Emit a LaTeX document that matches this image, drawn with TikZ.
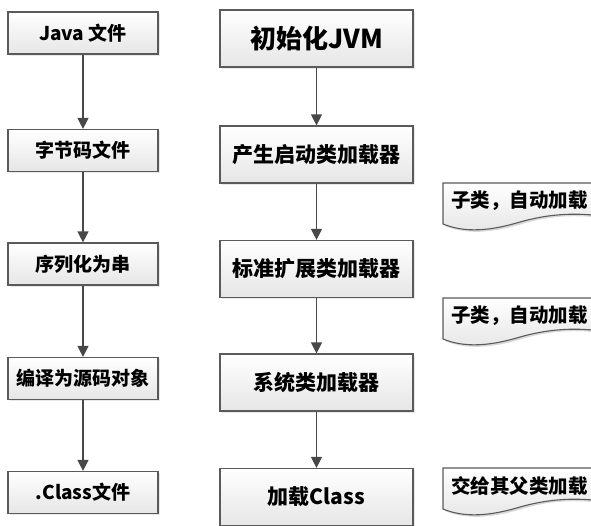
\documentclass[tikz,border=0pt]{standalone}
\usepackage{fontspec}
\setmainfont{Noto Sans CJK SC}
\usetikzlibrary{arrows.meta,shadows}
\definecolor{boxborder}{HTML}{5A5A5A}
\definecolor{boxfill}{HTML}{E6E6E6}
\definecolor{arrcol}{HTML}{484848}
\tikzset{
  flowbox/.style={draw=boxborder, line width=1.2pt, top color=white, bottom color=boxfill,
    drop shadow={opacity=0.18, shadow xshift=1.5pt, shadow yshift=-1.5pt},
    inner sep=0pt, anchor=center, text=black},
  leftbox/.style={flowbox, minimum width=150pt, minimum height=42pt, font=\bfseries\fontsize{19}{21}\selectfont},
  rightbox/.style={flowbox, minimum width=193pt, minimum height=57pt, font=\bfseries\fontsize{21}{24}\selectfont},
  arr/.style={draw=arrcol, line width=1.2pt, -{Triangle[length=11pt,width=11pt]}},
  notetext/.style={anchor=west, inner sep=0pt, font=\bfseries\fontsize{19.5}{21}\selectfont, text=black},
  noteshape/.style={draw=boxborder, line width=1.1pt, top color=white, bottom color=boxfill}
}
\begin{document}
\begin{tikzpicture}[x=1pt,y=-1pt]
\useasboundingbox (0,0) rectangle (591,525);
\clip (0,0) rectangle (591,525);
% left column
\node[leftbox] (l1) at (83,33)    {Java 文件};
\node[leftbox] (l2) at (83,150.5) {字节码文件};
\node[leftbox] (l3) at (83,264)   {序列化为串};
\node[leftbox] (l4) at (83,378.5) {编译为源码对象};
\node[leftbox] (l5) at (83,492.5) {.Class文件};
% right column
\node[rightbox, font=\bfseries\fontsize{26}{28}\selectfont] (r1) at (316.5,38.5) {初始化JVM};
\node[rightbox] (r2) at (316.5,154.5) {产生启动类加载器};
\node[rightbox] (r3) at (316.5,269)   {标准扩展类加载器};
\node[rightbox] (r4) at (316.5,382.5) {系统类加载器};
\node[rightbox] (r5) at (316.5,497)   {加载Class};
% arrows
\draw[arr] (l1) -- (l2);
\draw[arr] (l2) -- (l3);
\draw[arr] (l3) -- (l4);
\draw[arr] (l4) -- (l5);
\draw[arr] (r1) -- (r2);
\draw[arr] (r2) -- (r3);
\draw[arr] (r3) -- (r4);
\draw[arr] (r4) -- (r5);
% notes
\foreach \t/\txt/\nm in {183/子类，自动加载/n1, 298/子类，自动加载/n2, 468/交给其父类加载/n3}{
  \fill[black, opacity=0.15] (445,\t+2) -- (602,\t+2) -- (602,\t+35)
     .. controls (570,\t+31) and (545,\t+34) .. (522,\t+41)
     .. controls (492,\t+50) and (467,\t+52) .. (445,\t+43) -- cycle;
  \path[noteshape] (443,\t) -- (602,\t) -- (602,\t+33)
     .. controls (570,\t+29) and (545,\t+32) .. (520,\t+39)
     .. controls (490,\t+48) and (465,\t+50) .. (443,\t+41) -- cycle;
  \node[notetext] (\nm) at (451,\t+18) {\txt};
}
\end{tikzpicture}
\end{document}
